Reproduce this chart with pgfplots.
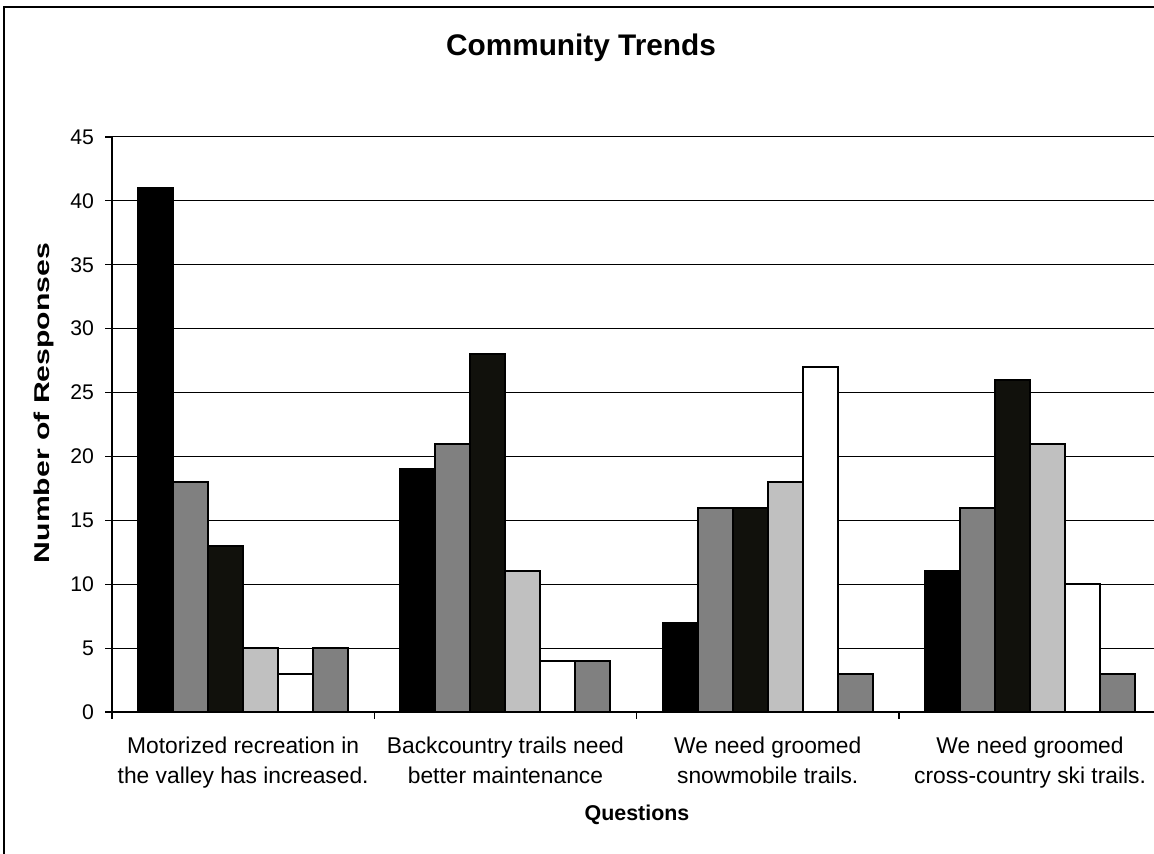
\documentclass[border=0pt]{standalone}
\usepackage{pgfplots}
\pgfplotsset{compat=1.18}
\usepackage{pgfplotstable}
\usepackage{fontspec}
\setmainfont{Liberation Sans}

\definecolor{barA}{RGB}{0,0,0}
\definecolor{barB}{RGB}{128,128,128}
\definecolor{barC}{RGB}{17,17,12}
\definecolor{barD}{RGB}{192,192,192}
\definecolor{barE}{RGB}{255,255,255}
\definecolor{barF}{RGB}{128,128,128}

% responses per question (x = question index), one column per answer
\pgfplotstableread{
x  a  b  c  d  e  f
0  41 18 13 5  3  5
1  19 21 28 11 4  4
2  7  16 16 18 27 3
3  11 16 26 21 10 3
}\responses

\begin{document}
\begin{tikzpicture}
\useasboundingbox (0,0) rectangle (577pt,427pt);
\clip (0,0) rectangle (577pt,427pt);
% outer chart frame
\draw[line width=0.75pt] (2pt,-20pt) rectangle (620pt,423.5pt);

\begin{axis}[
  at={(56pt,71pt)}, anchor=south west,
  scale only axis,
  width=524.6pt, height=287.5pt,
  xmin=-0.5, xmax=3.5,
  ymin=0, ymax=45,
  ytick={0,5,...,45},
  xtick={0,1,2,3},
  xticklabels={{Motorized recreation in\\the valley has increased.},
               {Backcountry trails need\\better maintenance},
               {We need groomed\\snowmobile trails.},
               {We need groomed\\cross-country ski trails.}},
  minor xtick={-0.5,0.5,1.5,2.5,3.5},
  major x tick style={draw=none},
  tick align=outside,
  major tick length=3.5pt,
  minor tick length=3.5pt,
  ymajorgrids,
  grid style={black, line width=0.5pt},
  axis x line*=bottom,
  axis y line*=left,
  axis line style={black, line width=0.6pt, -},
  tick style={black, line width=0.6pt},
  /pgf/number format/assume math mode=true,
  yticklabel style={font=\fontsize{10.6}{12}\selectfont, anchor=east, xshift=-2pt},
  xticklabel style={font=\fontsize{11.4}{15}\selectfont, align=center, anchor=north, inner sep=0pt, yshift=-9pt},
  ybar=0pt,
  bar width=17.5pt,
  every axis plot/.append style={draw=black, line width=1pt},
  clip=false,
]
\addplot[fill=barA] table[x=x,y=a] {\responses};
\addplot[fill=barB] table[x=x,y=b] {\responses};
\addplot[fill=barC] table[x=x,y=c] {\responses};
\addplot[fill=barD] table[x=x,y=d] {\responses};
\addplot[fill=barE] table[x=x,y=e] {\responses};
\addplot[fill=barF] table[x=x,y=f] {\responses};
\end{axis}

\node[font=\bfseries\fontsize{14.9}{16}\selectfont] at (290.5pt,403pt) {Community Trends};
% the vertical title is set stretched along its length
\node[font=\bfseries\fontsize{10.7}{12}\selectfont, rotate=90, xscale=1.41] at (22pt,225.5pt) {Number of Responses};
\node[font=\bfseries\fontsize{10.7}{12}\selectfont] at (318.5pt,19.5pt) {Questions};
\end{tikzpicture}
\end{document}
